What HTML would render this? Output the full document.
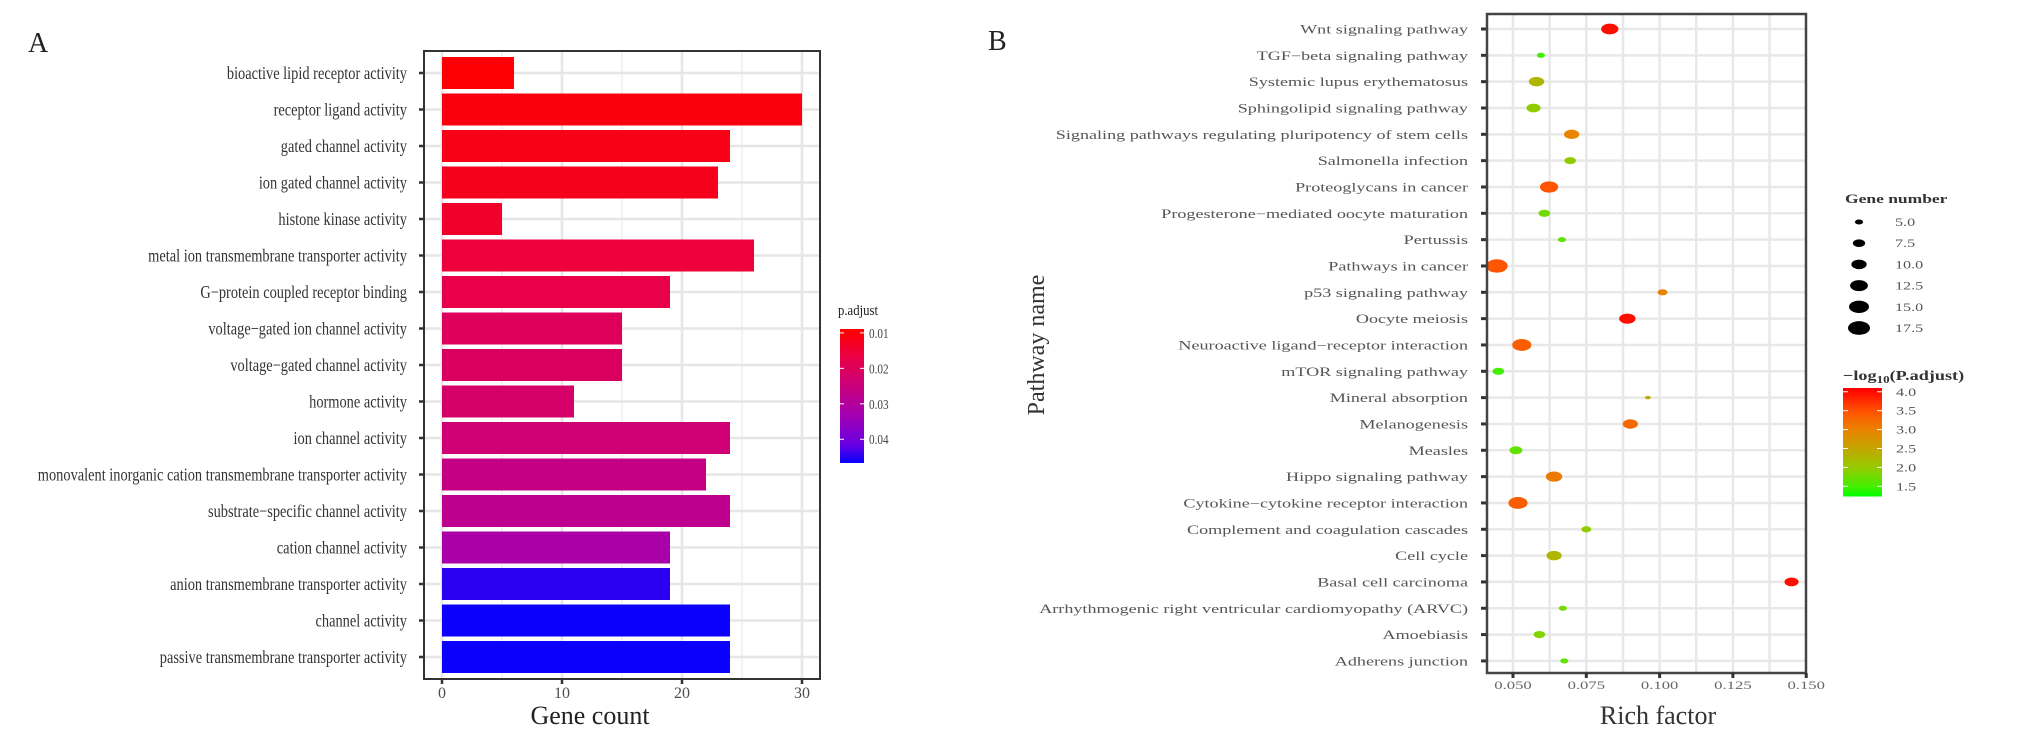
<!DOCTYPE html>
<html><head><meta charset="utf-8">
<style>
html,body{margin:0;padding:0;background:#fff;}
svg{display:block;font-family:"Liberation Serif",serif;}
</style></head>
<body>
<svg id="fig" width="2031" height="736" viewBox="0 0 2031 736" xmlns="http://www.w3.org/2000/svg">
<text x="28" y="52" font-size="28" fill="#222">A</text>
<text x="988" y="50" font-size="28" fill="#222">B</text>
<g id="pa"></g>
<g id="pb"></g>
</svg>
<script>
// ---------- Panel A data ----------
const goTerms = ["bioactive lipid receptor activity","receptor ligand activity","gated channel activity","ion gated channel activity","histone kinase activity","metal ion transmembrane transporter activity","G\u2212protein coupled receptor binding","voltage\u2212gated ion channel activity","voltage\u2212gated channel activity","hormone activity","ion channel activity","monovalent inorganic cation transmembrane transporter activity","substrate\u2212specific channel activity","cation channel activity","anion transmembrane transporter activity","channel activity","passive transmembrane transporter activity"];
const geneCounts = [6,30,24,23,5,26,19,15,15,11,24,22,24,19,19,24,24];
const pAdjust = [0.0005,0.002,0.003,0.004,0.006,0.008,0.010,0.013,0.014,0.016,0.018,0.021,0.023,0.028,0.044,0.046,0.046];
const countTicks = [0,10,20,30];
const pTicks = [0.01,0.02,0.03,0.04];
const pTickLabels = ["0.01","0.02","0.03","0.04"];

// ---------- Panel B data ----------
const pathways = ["Wnt signaling pathway","TGF\u2212beta signaling pathway","Systemic lupus erythematosus","Sphingolipid signaling pathway","Signaling pathways regulating pluripotency of stem cells","Salmonella infection","Proteoglycans in cancer","Progesterone\u2212mediated oocyte maturation","Pertussis","Pathways in cancer","p53 signaling pathway","Oocyte meiosis","Neuroactive ligand\u2212receptor interaction","mTOR signaling pathway","Mineral absorption","Melanogenesis","Measles","Hippo signaling pathway","Cytokine\u2212cytokine receptor interaction","Complement and coagulation cascades","Cell cycle","Basal cell carcinoma","Arrhythmogenic right ventricular cardiomyopathy (ARVC)","Amoebiasis","Adherens junction"];
const richFactor = [0.083,0.0595,0.058,0.057,0.070,0.0695,0.0623,0.0607,0.0667,0.0445,0.101,0.089,0.053,0.045,0.096,0.090,0.051,0.064,0.0517,0.075,0.064,0.145,0.067,0.059,0.0675];
const geneNumber = [12,5,10,9,10,7,13,7,5,17,6,11,14,7,4,10,8,11,14,6,10,9,5,7,5];
const negLogP = [4.0,1.5,2.3,2.0,3.0,2.0,3.5,1.8,1.7,3.5,3.0,4.0,3.4,1.5,2.4,3.3,1.7,3.1,3.4,2.0,2.3,4.0,1.8,1.9,1.7];
const rfTicks = [0.050,0.075,0.100,0.125,0.150];
const rfTickLabels = ["0.050","0.075","0.100","0.125","0.150"];
const sizeLegend = [5.0,7.5,10.0,12.5,15.0,17.5];
const sizeLegendLabels = ["5.0","7.5","10.0","12.5","15.0","17.5"];
const colorLegend = [4.0,3.5,3.0,2.5,2.0,1.5];
const colorLegendLabels = ["4.0","3.5","3.0","2.5","2.0","1.5"];

const NS="http://www.w3.org/2000/svg";
function mk(parent,tag,attrs){const e=document.createElementNS(NS,tag);for(const k in attrs)e.setAttribute(k,attrs[k]);parent.appendChild(e);return e;}
function hex(c){return [parseInt(c.slice(1,3),16),parseInt(c.slice(3,5),16),parseInt(c.slice(5,7),16)];}
function interp(stops,v){
  if(v<=stops[0][0])return stops[0][1];
  for(let i=1;i<stops.length;i++){if(v<=stops[i][0]){const t=(v-stops[i-1][0])/(stops[i][0]-stops[i-1][0]);const a=hex(stops[i-1][1]),b=hex(stops[i][1]);return "rgb("+a.map((x,j)=>Math.round(x+(b[j]-x)*t)).join(",")+")";}}
  return stops[stops.length-1][1];
}
const pStops=[[0,"#ff0000"],[0.01,"#e8004a"],[0.02,"#c8007e"],[0.03,"#a200b2"],[0.04,"#6800e2"],[0.0467,"#0000ff"]];
const gStops=[[1.27,"#00ff00"],[1.5,"#40f000"],[2.0,"#92cc00"],[2.5,"#c2a800"],[3.0,"#e88400"],[3.5,"#ff5400"],[4.1,"#ff0000"]];

// ---------- Panel A ----------
const pa=document.getElementById("pa");
const A={L:424,R:820,T:51,B:679,x0:442,xPer:12,y0:73,pitch:36.5,bh:32};
const ax=v=>A.x0+v*A.xPer, ay=i=>A.y0+i*A.pitch;
for(const v of [5,15,25]){const l=mk(pa,"line",{x1:ax(v),x2:ax(v),y1:A.T,y2:A.B,stroke:"#efefef","stroke-width":1.5});

}
for(const v of countTicks){const l=mk(pa,"line",{x1:ax(v),x2:ax(v),y1:A.T,y2:A.B,stroke:"#e6e6e6","stroke-width":2.5});

}
goTerms.forEach((t,i)=>{
  const g=mk(pa,"line",{x1:A.L,x2:A.R,y1:ay(i),y2:ay(i),stroke:"#e6e6e6","stroke-width":2.5});
  
  
  const r=mk(pa,"rect",{x:ax(0),y:ay(i)-A.bh/2,width:ax(geneCounts[i])-ax(0),height:A.bh,fill:interp(pStops,pAdjust[i])});
  
  
  const tk=mk(pa,"line",{x1:A.L-5,x2:A.L,y1:ay(i),y2:ay(i),stroke:"#333","stroke-width":2.5});
  
  
  const tx=mk(pa,"text",{transform:`translate(407,${ay(i)+6}) scale(0.8,1)`,"text-anchor":"end","font-size":18,fill:"#333"});
  tx.textContent=t;
  
  
});
const fa=mk(pa,"rect",{x:A.L,y:A.T,width:A.R-A.L,height:A.B-A.T,fill:"none",stroke:"#333","stroke-width":2});


countTicks.forEach(v=>{
  const tk=mk(pa,"line",{x1:ax(v),x2:ax(v),y1:A.B,y2:A.B+5,stroke:"#333","stroke-width":2.5});
  
  
  const tx=mk(pa,"text",{x:ax(v),y:A.B+19,"text-anchor":"middle","font-size":16,fill:"#4d4d4d"});
  tx.textContent=String(v);
  
  
});
const xtA=mk(pa,"text",{x:590,y:724,"text-anchor":"middle","font-size":26,fill:"#222"});
xtA.textContent="Gene count";


// legend A
const lgA=mk(pa,"g",{});


const ltA=mk(lgA,"text",{transform:"translate(838,315) scale(0.85,1)","font-size":15,fill:"#222"});
ltA.textContent="p.adjust";


const cbT=329,cbB=463,pTop=0.0089,pBot=0.0467;
const py=p=>cbT+(p-pTop)/(pBot-pTop)*(cbB-cbT);
for(let y=cbT;y<cbB;y+=2){mk(lgA,"rect",{x:840,y:y,width:24,height:Math.min(2.5,cbB-y),fill:interp(pStops,pTop+(y-cbT)/(cbB-cbT)*(pBot-pTop)-0.0089*(1-(y-cbT)/(cbB-cbT)))});}
pTicks.forEach((p,i)=>{
  mk(lgA,"line",{x1:840,x2:844,y1:py(p),y2:py(p),stroke:"#fff","stroke-width":1});
  mk(lgA,"line",{x1:860,x2:864,y1:py(p),y2:py(p),stroke:"#fff","stroke-width":1});
  const tx=mk(lgA,"text",{transform:`translate(869,${py(p)+5}) scale(0.8,1)`,"font-size":14,fill:"#444"});
  tx.textContent=pTickLabels[i];
  
  
});

// ---------- Panel B ----------
const pb=document.getElementById("pb");
const B={L:1487,R:1806,T:14,B:673,y0:29,pitch:26.33};
const bx=v=>1513+(v-0.05)/0.025*73.3, by=i=>B.y0+i*B.pitch;
for(let v=0.0375;v<=0.15;v+=0.0125){const xx=bx(v);if(xx>B.L&&xx<B.R){const l=mk(pb,"line",{x1:xx,x2:xx,y1:B.T,y2:B.B,stroke:"#e8e8e8","stroke-width":2.5});

}}
const rx=g=>11*Math.sqrt(Math.max(g-3,0.4)/14.5);
pathways.forEach((t,i)=>{
  const g=mk(pb,"line",{x1:B.L,x2:B.R,y1:by(i),y2:by(i),stroke:"#e8e8e8","stroke-width":2.5});
  
  
  const tk=mk(pb,"line",{x1:B.L-6,x2:B.L,y1:by(i),y2:by(i),stroke:"#333","stroke-width":3});
  
  
  const tx=mk(pb,"text",{transform:`translate(1468,${by(i)+4.5}) scale(1.45,1)`,"text-anchor":"end","font-size":12.5,fill:"#555"});
  tx.textContent=t;
  
  
});
pathways.forEach((t,i)=>{
  const r=rx(geneNumber[i]);
  const d=mk(pb,"ellipse",{cx:bx(richFactor[i]),cy:by(i),rx:r,ry:r*0.62,fill:interp(gStops,negLogP[i])});
  
  
});
const fb=mk(pb,"rect",{x:B.L,y:B.T,width:B.R-B.L,height:B.B-B.T,fill:"none",stroke:"#444","stroke-width":2.5});


rfTicks.forEach((v,i)=>{
  const tk=mk(pb,"line",{x1:bx(v),x2:bx(v),y1:B.B,y2:B.B+5,stroke:"#333","stroke-width":3});
  
  
  const tx=mk(pb,"text",{transform:`translate(${bx(v)},${B.B+16}) scale(1.45,1)`,"text-anchor":"middle","font-size":11.5,fill:"#666"});
  tx.textContent=rfTickLabels[i];
  
  
});
const xtB=mk(pb,"text",{x:1658,y:724,"text-anchor":"middle","font-size":26,fill:"#333"});
xtB.textContent="Rich factor";


const ytB=mk(pb,"text",{transform:"translate(1044,345) rotate(-90)","text-anchor":"middle","font-size":24,fill:"#333"});
ytB.textContent="Pathway name";


// size legend
const lgS=mk(pb,"g",{});


const stl=mk(lgS,"text",{transform:"translate(1845,203) scale(1.4,1)","font-size":12.5,"font-weight":"bold",fill:"#333"});
stl.textContent="Gene number";


sizeLegend.forEach((g,i)=>{
  const y=222+i*21.2, r=rx(g);
  const e=mk(lgS,"ellipse",{cx:1859,cy:y,rx:r,ry:r*0.62,fill:"#000"});
  
  
  const tx=mk(lgS,"text",{transform:`translate(1895,${y+4}) scale(1.4,1)`,"font-size":11.5,fill:"#555"});
  tx.textContent=sizeLegendLabels[i];
  
  
});
// color legend
const lgC=mk(pb,"g",{});


const ctl=mk(lgC,"text",{transform:"translate(1843,380) scale(1.3,1)","font-size":14,"font-weight":"bold",fill:"#333"});
ctl.innerHTML='\u2212log<tspan font-size="10" dy="3">10</tspan><tspan dy="-3">(P.adjust)</tspan>';


const gT=388,gB=495,vTop=4.1,vBot=1.27;
const gy=v=>gT+(vTop-v)/(vTop-vBot)*(gB-gT);
for(let y=gT;y<gB;y+=2){mk(lgC,"rect",{x:1843,y:y,width:39,height:2.5,fill:interp(gStops,vTop-(y-gT)/(gB-gT)*(vTop-vBot))});}
colorLegend.forEach((v,i)=>{
  mk(lgC,"line",{x1:1843,x2:1848,y1:gy(v),y2:gy(v),stroke:"#fff","stroke-width":1});
  mk(lgC,"line",{x1:1877,x2:1882,y1:gy(v),y2:gy(v),stroke:"#fff","stroke-width":1});
  const tx=mk(lgC,"text",{transform:`translate(1896,${gy(v)+4}) scale(1.4,1)`,"font-size":11.5,fill:"#555"});
  tx.textContent=colorLegendLabels[i];
  
  
});
</script>
</body></html>
